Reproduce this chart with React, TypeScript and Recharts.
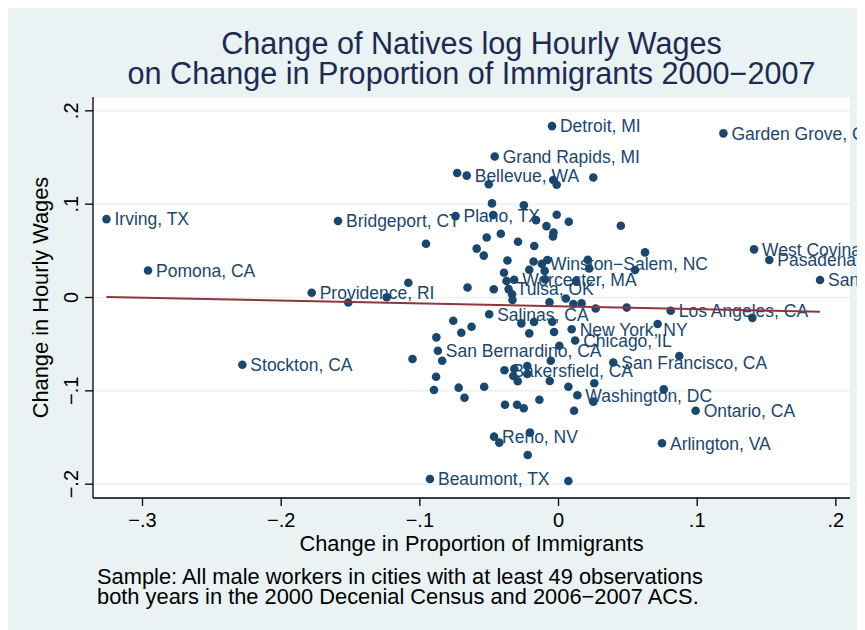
import React from 'react';
import { ScatterChart, Scatter, XAxis, YAxis, CartesianGrid } from 'recharts';

// labelled cities
const cityNames = [
  'Irving, TX', 'Pomona, CA', 'Bridgeport, CT', 'Providence, RI', 'Stockton, CA',
  'Detroit, MI', 'Grand Rapids, MI', 'Bellevue, WA', 'Plano, TX', 'Winston\u2212Salem, NC',
  'Worcester, MA', 'Tulsa, OK', 'Salinas, CA', 'New York, NY', 'Chicago, IL',
  'San Bernardino, CA', 'Bakersfield, CA', 'San Francisco, CA', 'Washington, DC', 'Reno, NV',
  'Beaumont, TX', 'Garden Grove, CA', 'West Covina, CA', 'Pasadena, CA', 'Santa Ana, CA',
  'Los Angeles, CA', 'Ontario, CA', 'Arlington, VA',
];
const cityImmigrantChange = [
  -0.326, -0.296, -0.159, -0.178, -0.228,
  -0.0047, -0.046, -0.0662, -0.0743, -0.012,
  -0.032, -0.036, -0.050, 0.0095, 0.012,
  -0.087, -0.039, 0.0395, 0.0136, -0.0465,
  -0.0927, 0.1189, 0.141, 0.152, 0.1886,
  0.0809, 0.0989, 0.0746,
];
const cityWageChange = [
  0.084, 0.029, 0.082, 0.0051, -0.072,
  0.1836, 0.151, 0.1306, 0.0872, 0.036,
  0.019, 0.009, -0.018, -0.034, -0.046,
  -0.057, -0.078, -0.0697, -0.1048, -0.1491,
  -0.1944, 0.1758, 0.0516, 0.0401, 0.0187,
  -0.0142, -0.1213, -0.1562,
];

// unlabelled cities
const otherImmigrantChange = [
  -0.1516, -0.0731, -0.0503, -0.0038, -0.0013, 0.0251, -0.048, -0.025, -0.0471, -0.0162,
  -0.0013, -0.0087, 0.0074, -0.0036, -0.004, 0.0449, -0.0956, -0.0518, -0.0416, -0.059,
  -0.0539, -0.0292, -0.0175, -0.0368, -0.018, -0.0081, 0.0211, 0.0221, -0.0393, -0.0211,
  -0.01, -0.0375, -0.0097, 0.0126, -0.0656, -0.0467, -0.1083, -0.1239, -0.0335, -0.0332,
  -0.0065, 0.0053, 0.0107, 0.0166, 0.0268, 0.0492, 0.0624, 0.0552, 0.1398, -0.0759,
  -0.0701, -0.0627, -0.0881, -0.0839, -0.1053, -0.0883, -0.0898, -0.072, -0.0678, -0.0536,
  -0.0268, -0.0177, -0.0045, -0.0211, -0.0032, 0.0006, -0.0056, -0.0319, -0.0326, -0.0225,
  -0.0225, -0.0294, -0.0063, 0.0071, 0.0258, 0.0251, 0.0112, -0.0138, -0.0386, -0.0299,
  -0.0251, -0.0427, -0.0206, -0.0222, 0.0071, 0.0715, 0.0871, 0.0759,
];
const otherWageChange = [
  -0.0054, 0.1333, 0.1213, 0.1258, 0.1208, 0.1285, 0.1008, 0.0988, 0.0883, 0.0829,
  0.0886, 0.0765, 0.0811, 0.0696, 0.0655, 0.0768, 0.0576, 0.0642, 0.0683, 0.0524,
  0.0449, 0.0597, 0.0551, 0.0396, 0.0385, 0.0401, 0.0403, 0.0312, 0.0265, 0.0297,
  0.0285, 0.0176, 0.0194, 0.0176, 0.0107, 0.0088, 0.0158, 0.0002, 0.0035, -0.0027,
  -0.0051, -0.0011, -0.007, -0.0063, -0.0118, -0.0108, 0.0483, 0.0294, -0.0218, -0.0249,
  -0.0378, -0.0313, -0.0427, -0.0677, -0.0659, -0.0849, -0.0991, -0.0966, -0.1074, -0.0956,
  -0.0277, -0.0263, -0.026, -0.0384, -0.037, -0.0517, -0.0677, -0.0763, -0.0841, -0.0734,
  -0.082, -0.0898, -0.0895, -0.0956, -0.0919, -0.1116, -0.1213, -0.1095, -0.1149, -0.1149,
  -0.1187, -0.1555, -0.1448, -0.1687, -0.1966, -0.0284, -0.0627, -0.0984,
];

// fitted line end points
const fitImmigrantChange = [-0.326, 0.1886];
const fitWageChange = [0.0005, -0.0153];

const xTicks = [-0.3, -0.2, -0.1, 0, 0.1, 0.2];
const yTicks = [-0.2, -0.1, 0, 0.1, 0.2];

const cityData = cityNames.map((name, i) => ({ name, x: cityImmigrantChange[i], y: cityWageChange[i] }));
const otherData = otherImmigrantChange.map((x, i) => ({ name: '', x, y: otherWageChange[i] }));
const allData = [...cityData, ...otherData];
const fitData = fitImmigrantChange.map((x, i) => ({ x, y: fitWageChange[i] }));

const FONT = '"Liberation Sans", Arial, Helvetica, sans-serif';
const NAVY = '#1a476f';
const BG = '#eaf2f3';

const fmt = (v: number) =>
  v === 0 ? '0' : (v < 0 ? '\u2212' : '') + String(Math.abs(v)).replace(/^0/, '');

const XTick = (props: any) => {
  const { x, payload } = props;
  return (
    <text x={x} y={521} textAnchor="middle" fontSize={20} fontFamily={FONT} fill="#000">
      {fmt(payload.value)}
    </text>
  );
};

const YTick = (props: any) => {
  const { y, payload } = props;
  return (
    <text transform={`translate(70, ${y}) rotate(-90)`} textAnchor="middle" fontSize={20} fontFamily={FONT} fill="#000">
      {fmt(payload.value)}
    </text>
  );
};

const CityLabel = (props: any) => {
  const { cx, cy, payload } = props;
  if (!payload.name) return <g />;
  return (
    <text x={cx + 8} y={cy} dy="0.36em" fontSize={17.5} fontFamily={FONT} fill={NAVY}>
      {payload.name}
    </text>
  );
};

const Dot = (props: any) => <circle cx={props.cx} cy={props.cy} r={4.3} fill={NAVY} />;

export default function App() {
  return (
    <div style={{ position: 'relative', width: 857, height: 624, marginTop: -2, background: BG, fontFamily: FONT }}>
      <div
        style={{
          position: 'absolute', left: 85, top: 22.2, width: 757, textAlign: 'center',
          fontSize: 30.6, lineHeight: '30px', color: '#1c2b52', whiteSpace: 'nowrap',
        }}
      >
        Change of Natives log Hourly Wages
        <br />
        on Change in Proportion of Immigrants 2000{'\u2212'}2007
      </div>
      <ScatterChart width={857} height={624} margin={{ top: 91, right: 15, bottom: 92, left: 0 }}>
        <CartesianGrid vertical={false} stroke={BG} strokeWidth={1.5} fill="#ffffff" />
        <XAxis
          type="number"
          dataKey="x"
          domain={[-0.3357, 0.2102]}
          ticks={xTicks}
          interval={0}
          height={40}
          tickSize={8}
          axisLine={{ stroke: '#000', strokeWidth: 1.3 }}
          tickLine={{ stroke: '#000', strokeWidth: 1.3 }}
          tick={<XTick />}
          label={{
            content: () => (
              <text x={463.5} y={545} textAnchor="middle" fontSize={21.8} fontFamily={FONT} fill="#000">
                Change in Proportion of Immigrants
              </text>
            ),
          }}
        />
        <YAxis
          type="number"
          dataKey="y"
          domain={[-0.2148, 0.2148]}
          ticks={yTicks}
          interval={0}
          width={85}
          tickSize={8}
          axisLine={{ stroke: '#000', strokeWidth: 1.3 }}
          tickLine={{ stroke: '#000', strokeWidth: 1.3 }}
          tick={<YTick />}
          label={{
            content: () => (
              <text transform="translate(40, 291.5) rotate(-90)" textAnchor="middle" fontSize={21.8} fontFamily={FONT} fill="#000">
                Change in Hourly Wages
              </text>
            ),
          }}
        />
        <Scatter data={allData} shape={<CityLabel />} isAnimationActive={false} />
        <Scatter data={allData} shape={<Dot />} isAnimationActive={false} />
        <Scatter
          data={fitData}
          line={{ stroke: '#90353b', strokeWidth: 2 }}
          shape={() => <g />}
          isAnimationActive={false}
        />
      </ScatterChart>
      <div
        style={{
          position: 'absolute', left: 89, top: 561, fontSize: 21.85, lineHeight: '20px', color: '#000',
          whiteSpace: 'nowrap',
        }}
      >
        Sample: All male workers in cities with at least 49 observations
        <br />
        both years in the 2000 Decenial Census and 2006{'\u2212'}2007 ACS.
      </div>
    </div>
  );
}
